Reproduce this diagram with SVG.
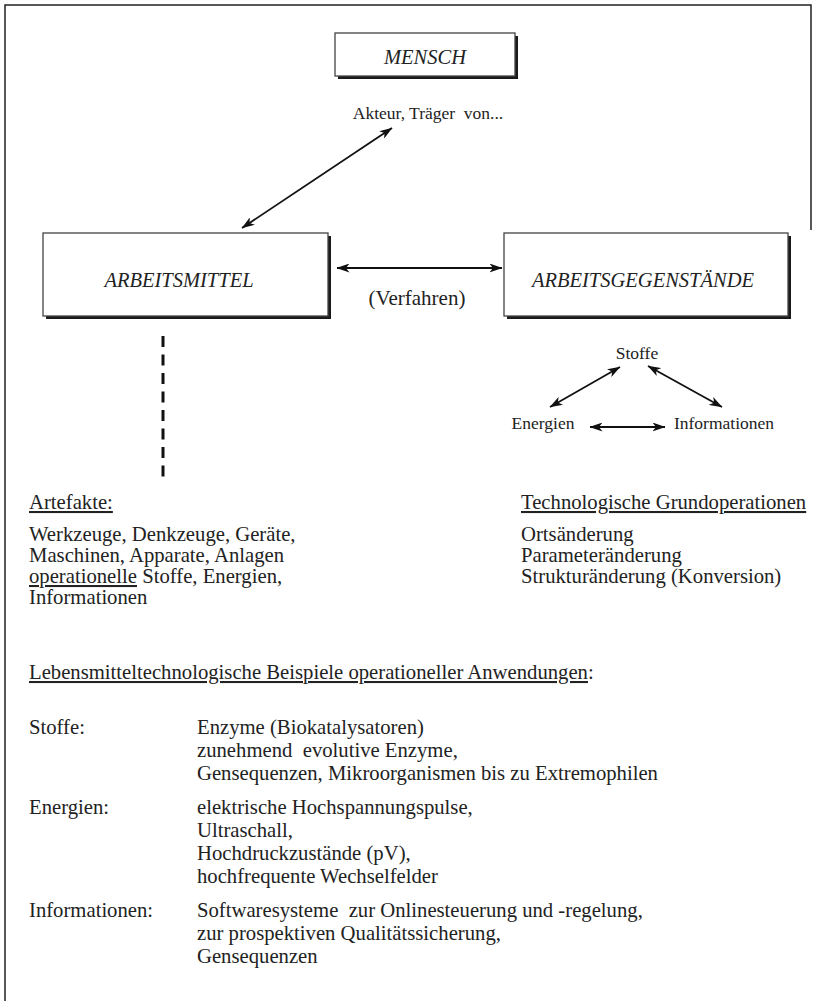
<svg xmlns="http://www.w3.org/2000/svg" width="816" height="1001" viewBox="0 0 816 1001">
<defs>
<marker id="ah" viewBox="0 0 13 9" refX="12.5" refY="4.5" markerWidth="13" markerHeight="9" markerUnits="userSpaceOnUse" orient="auto-start-reverse"><path d="M0,0 L13,4.5 L0,9 L3.5,4.5 z" fill="#111"/></marker>
</defs>
<style>
.t{font-family:"Liberation Serif","Times New Roman",serif;fill:#222;white-space:pre}
.b{font-size:20.7px}
.s{font-size:17.5px}
.i{font-style:italic;font-size:20.5px}
.m{text-anchor:middle}
.box{fill:#fff;stroke:#444;stroke-width:1.3}
.sh{fill:#1a1a1a}
.c{stroke:#111;stroke-width:1.8;fill:none}
.u{text-decoration:underline}
</style>
<rect width="816" height="1001" fill="#fff"/>
<g id="frame"><path d="M5,1001 V5 H811 V230" fill="none" stroke="#222" stroke-width="1.5"/></g>

<g id="mensch">
<rect class="sh" x="338" y="36" width="180" height="43"/>
<rect class="box" x="335" y="33" width="180" height="43"/>
<text class="t i m" x="425" y="64">MENSCH</text>
<text class="t s m" x="428" y="119">Akteur, Träger  von...</text>
</g>

<g id="arbeitsmittel">
<rect class="sh" x="46" y="236" width="285" height="83"/>
<rect class="box" x="43" y="233" width="285" height="83"/>
<text class="t i m" x="179" y="287">ARBEITSMITTEL</text>
</g>

<g id="arbeitsgegenstaende">
<rect class="sh" x="507" y="236" width="284" height="83"/>
<rect class="box" x="504" y="233" width="284" height="83"/>
<text class="t i m" x="643" y="287">ARBEITSGEGENSTÄNDE</text>
</g>

<g id="verfahren"><text class="t m" style="font-size:21px" x="417" y="305">(Verfahren)</text></g>

<g id="stoffe"><text class="t s m" x="637" y="359">Stoffe</text></g>
<g id="energien"><text class="t s m" x="543" y="429">Energien</text></g>
<g id="informationen"><text class="t s m" x="724" y="429">Informationen</text></g>

<g id="connectors">
<line class="c" x1="392" y1="128" x2="242" y2="228" marker-start="url(#ah)" marker-end="url(#ah)"/>
<line class="c" x1="337" y1="268" x2="502" y2="268" marker-start="url(#ah)" marker-end="url(#ah)"/>
<line class="c" x1="620" y1="367" x2="550" y2="407" marker-start="url(#ah)" marker-end="url(#ah)"/>
<line class="c" x1="648" y1="366" x2="722" y2="407" marker-start="url(#ah)" marker-end="url(#ah)"/>
<line class="c" x1="590" y1="427" x2="665" y2="427" marker-start="url(#ah)" marker-end="url(#ah)"/>
<line x1="163" y1="336" x2="163" y2="478" stroke="#111" stroke-width="3" stroke-dasharray="11 7.5"/>
</g>

<g id="artefakte">
<text class="t b u" x="29" y="509">Artefakte:</text>
<text class="t b" x="29" y="541">Werkzeuge, Denkzeuge, Geräte,</text>
<text class="t b" x="29" y="562">Maschinen, Apparate, Anlagen</text>
<text class="t b" x="29" y="583"><tspan class="u">operationelle</tspan> Stoffe, Energien,</text>
<text class="t b" x="29" y="604">Informationen</text>
</g>

<g id="grundoperationen">
<text class="t b u" x="521" y="509">Technologische Grundoperationen</text>
<text class="t b" x="521" y="541">Ortsänderung</text>
<text class="t b" x="521" y="562">Parameteränderung</text>
<text class="t b" x="521" y="583">Strukturänderung (Konversion)</text>
</g>

<g id="beispiele">
<text class="t b" x="29" y="679"><tspan class="u">Lebensmitteltechnologische Beispiele operationeller Anwendungen</tspan>:</text>
<text class="t b" x="29" y="734">Stoffe:</text>
<text class="t b" x="197" y="734">Enzyme (Biokatalysatoren)</text>
<text class="t b" x="197" y="757">zunehmend  evolutive Enzyme,</text>
<text class="t b" x="197" y="780">Gensequenzen, Mikroorganismen bis zu Extremophilen</text>
<text class="t b" x="29" y="814">Energien:</text>
<text class="t b" x="197" y="814">elektrische Hochspannungspulse,</text>
<text class="t b" x="197" y="837">Ultraschall,</text>
<text class="t b" x="197" y="860">Hochdruckzustände (pV),</text>
<text class="t b" x="197" y="883">hochfrequente Wechselfelder</text>
<text class="t b" x="29" y="917">Informationen:</text>
<text class="t b" x="197" y="917">Softwaresysteme  zur Onlinesteuerung und -regelung,</text>
<text class="t b" x="197" y="940">zur prospektiven Qualitätssicherung,</text>
<text class="t b" x="197" y="963">Gensequenzen</text>
</g>
</svg>
